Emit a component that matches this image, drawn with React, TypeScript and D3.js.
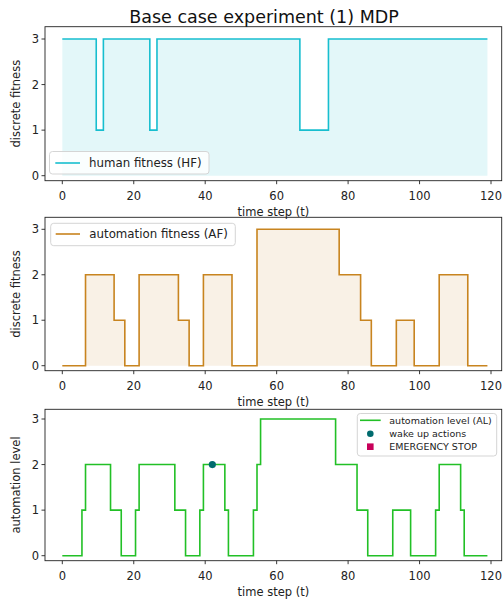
import React from "react";
import * as d3 from "d3";

// ---- data ----
const xTicks = [0, 20, 40, 60, 80, 100, 120];
const yTicks = [0, 1, 2, 3];

// step change times and levels (level holds from time until next time)
const hfTimes = [0, 9.5, 11.5, 24.5, 26.5, 66.5, 74.5, 119];
const hfLevels = [3, 1, 3, 1, 3, 1, 3, 3];

const afTimes = [0, 6.5, 14.5, 17.5, 21.5, 32.5, 35.5, 39.5, 47.5, 54.5, 77.5, 83.5, 86.5, 93.5, 98.5, 105.5, 113.5, 119];
const afLevels = [0, 2, 1, 0, 2, 1, 0, 2, 0, 3, 2, 1, 0, 1, 0, 2, 0, 0];

const alTimes = [0, 5.5, 6.5, 13.5, 16.5, 20.5, 21.5, 31.5, 34.5, 38.5, 39.5, 45.5, 46.5, 53.5, 54.5, 55.5, 76.5, 82.5, 85.5, 92.5, 97.5, 104.5, 105.5, 111.5, 112.5, 119];
const alLevels = [0, 1, 2, 1, 0, 1, 2, 1, 0, 1, 2, 1, 0, 1, 2, 3, 2, 1, 0, 1, 0, 1, 2, 1, 0, 0];

const wakeTimes = [42];
const wakeLevels = [2];

const FONT = "DejaVu Sans, sans-serif";
const W = 503;
const H = 602;

const AX_LEFT = 45;
const AX_RIGHT = 501.7;

const xScale = d3.scaleLinear().domain([0, 120]).range([62.3, 491]);

type Panel = { top: number; bottom: number; y0: number; y3: number };

function toPts(times: number[], levels: number[]): [number, number][] {
  return times.map((t, i) => [t, levels[i]] as [number, number]);
}

function Axes({ p, ylabel, children }: { p: Panel; ylabel: string; children?: React.ReactNode }) {
  const y = d3.scaleLinear().domain([0, 3]).range([p.y0, p.y3]);
  return (
    <g>
      {children}
      <rect x={AX_LEFT} y={p.top} width={AX_RIGHT - AX_LEFT} height={p.bottom - p.top} fill="none" stroke="#222" strokeWidth={0.9} />
      {xTicks.map((t) => (
        <g key={"x" + t}>
          <line x1={xScale(t)} x2={xScale(t)} y1={p.bottom} y2={p.bottom + 3.5} stroke="#222" strokeWidth={0.9} />
          <text x={xScale(t)} y={p.bottom + 19} textAnchor="middle" fontFamily={FONT} fontSize={11.5} fill="#222">{t}</text>
        </g>
      ))}
      {yTicks.map((v) => (
        <g key={"y" + v}>
          <line x1={AX_LEFT - 3.5} x2={AX_LEFT} y1={y(v)} y2={y(v)} stroke="#222" strokeWidth={0.9} />
          <text x={AX_LEFT - 6} y={y(v) + 4} textAnchor="end" fontFamily={FONT} fontSize={11.5} fill="#222">{v}</text>
        </g>
      ))}
      <text x={(AX_LEFT + AX_RIGHT) / 2} y={p.bottom + 35} textAnchor="middle" fontFamily={FONT} fontSize={11.5} fill="#222">time step (t)</text>
      <text transform={`translate(${20},${(p.top + p.bottom) / 2}) rotate(-90)`} textAnchor="middle" fontFamily={FONT} fontSize={11.5} fill="#222">{ylabel}</text>
    </g>
  );
}

export default function App() {
  const p1: Panel = { top: 26.7, bottom: 180.7, y0: 175.7, y3: 39 };
  const p2: Panel = { top: 217.3, bottom: 370.7, y0: 365.7, y3: 229.3 };
  const p3: Panel = { top: 409.3, bottom: 560.7, y0: 555.7, y3: 419 };

  const mk = (p: Panel) => d3.scaleLinear().domain([0, 3]).range([p.y0, p.y3]);
  const y1 = mk(p1), y2 = mk(p2), y3 = mk(p3);

  const line = (ys: d3.ScaleLinear<number, number>) =>
    d3.line<[number, number]>().x((d) => xScale(d[0])).y((d) => ys(d[1])).curve(d3.curveStepAfter);
  const area = (ys: d3.ScaleLinear<number, number>) =>
    d3.area<[number, number]>().x((d) => xScale(d[0])).y0(ys(0)).y1((d) => ys(d[1])).curve(d3.curveStepAfter);

  const hf = toPts(hfTimes, hfLevels);
  const af = toPts(afTimes, afLevels);
  const al = toPts(alTimes, alLevels);

  const cHF = "#17becf";
  const cAF = "#c8841f";
  const cAL = "#22c026";
  const cWake = "#006b6e";
  const cStop = "#c8005a";

  return (
    <svg width={W} height={H} style={{ position: "absolute", left: 0, top: 0, background: "#fff" }}>
      <rect x={0} y={0} width={W} height={H} fill="#fff" />
      <text x={264} y={23} textAnchor="middle" fontFamily={FONT} fontSize={17.5} fill="#111">Base case experiment (1) MDP</text>

      <Axes p={p1} ylabel="discrete fitness">
        <path d={area(y1)(hf) || ""} fill={cHF} fillOpacity={0.12} />
        <path d={line(y1)(hf) || ""} fill="none" stroke={cHF} strokeWidth={1.6} />
        <rect x={49.5} y={151.5} width={159.5} height={22.5} rx={3} fill="#fff" fillOpacity={0.8} stroke="#d0d0d0" strokeWidth={0.9} />
        <line x1={55.3} x2={80} y1={163} y2={163} stroke={cHF} strokeWidth={1.6} />
        <text x={89} y={167} fontFamily={FONT} fontSize={11.8} fill="#222">human fitness (HF)</text>
      </Axes>

      <Axes p={p2} ylabel="discrete fitness">
        <path d={area(y2)(af) || ""} fill={cAF} fillOpacity={0.11} />
        <path d={line(y2)(af) || ""} fill="none" stroke={cAF} strokeWidth={1.6} />
        <rect x={50.7} y={223.3} width={184.6} height={22.4} rx={3} fill="#fff" fillOpacity={0.8} stroke="#d0d0d0" strokeWidth={0.9} />
        <line x1={55.7} x2={80} y1={234} y2={234} stroke={cAF} strokeWidth={1.6} />
        <text x={89.3} y={238.2} fontFamily={FONT} fontSize={11.8} fill="#222">automation fitness (AF)</text>
      </Axes>

      <Axes p={p3} ylabel="automation level">
        <path d={line(y3)(al) || ""} fill="none" stroke={cAL} strokeWidth={1.6} />
        {wakeTimes.map((t, i) => (
          <circle key={i} cx={xScale(t)} cy={y3(wakeLevels[i])} r={3.6} fill={cWake} />
        ))}
        <rect x={357.3} y={413.5} width={139.4} height={42.5} rx={3} fill="#fff" fillOpacity={0.8} stroke="#d0d0d0" strokeWidth={0.9} />
        <line x1={360} x2={380.7} y1={420.3} y2={420.3} stroke={cAL} strokeWidth={1.6} />
        <text x={389.3} y={423.6} fontFamily={FONT} fontSize={9.5} fill="#222">automation level (AL)</text>
        <circle cx={370.3} cy={433.7} r={3.3} fill={cWake} />
        <text x={389.3} y={437} fontFamily={FONT} fontSize={9.5} fill="#222">wake up actions</text>
        <rect x={367} y={443.4} width={6.6} height={6.6} fill={cStop} />
        <text x={389.3} y={450} fontFamily={FONT} fontSize={9.5} fill="#222">EMERGENCY STOP</text>
      </Axes>
    </svg>
  );
}
